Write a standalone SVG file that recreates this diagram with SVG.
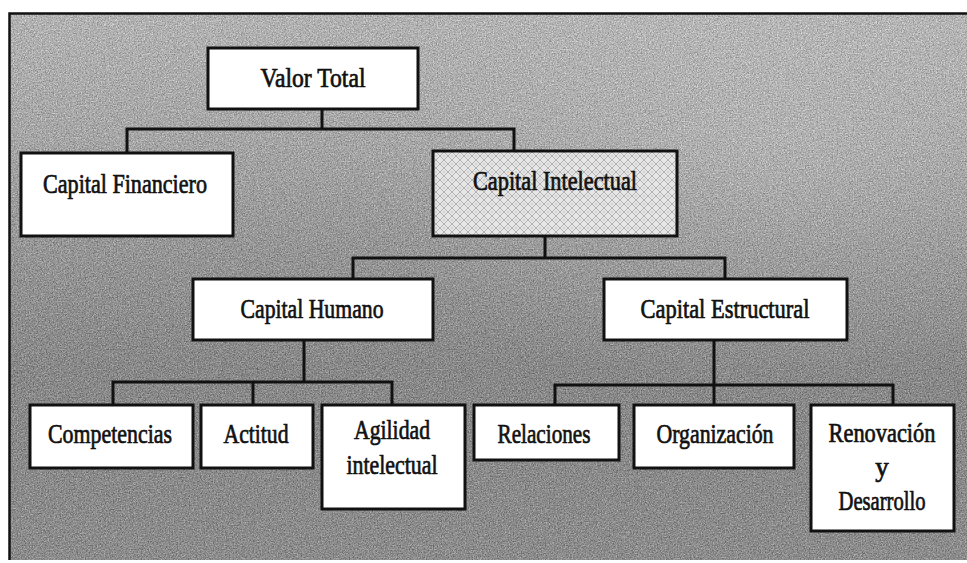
<svg xmlns="http://www.w3.org/2000/svg" width="967" height="563" viewBox="0 0 967 563">
  <style>
    .box { fill: #ffffff; stroke: #111111; stroke-width: 3; }
    .hatched { fill: url(#diamonds); stroke: #111111; stroke-width: 3; }
    .lbl { font-family: "Liberation Serif", "Times New Roman", serif; font-size: 27px; fill: #111111; stroke: #111111; stroke-width: 0.7; text-anchor: middle; }
    .wire { fill: none; stroke: #111111; stroke-width: 3; stroke-linejoin: miter; stroke-linecap: square; }
  </style>
  <defs>
    <linearGradient id="bgShade" x1="0" y1="0" x2="0" y2="1">
      <stop offset="0" stop-color="#cacaca"/>
      <stop offset="0.22" stop-color="#b9b9b9"/>
      <stop offset="0.42" stop-color="#a2a2a2"/>
      <stop offset="0.65" stop-color="#8e8e8e"/>
      <stop offset="1" stop-color="#939393"/>
    </linearGradient>
    <radialGradient id="glow" cx="0.8" cy="0.25" r="0.45">
      <stop offset="0" stop-color="#ffffff" stop-opacity="0.25"/>
      <stop offset="1" stop-color="#ffffff" stop-opacity="0"/>
    </radialGradient>
    <filter id="grain" x="0" y="0" width="100%" height="100%" color-interpolation-filters="sRGB">
      <feTurbulence type="fractalNoise" baseFrequency="0.75" numOctaves="2" seed="7" result="n"/>
      <feColorMatrix in="n" type="matrix" values="0.33 0.33 0.33 0 0  0.33 0.33 0.33 0 0  0.33 0.33 0.33 0 0  0 0 0 0 1" result="g"/>
      <feComponentTransfer in="g">
        <feFuncR type="linear" slope="3" intercept="-1"/>
        <feFuncG type="linear" slope="3" intercept="-1"/>
        <feFuncB type="linear" slope="3" intercept="-1"/>
      </feComponentTransfer>
    </filter>
    <pattern id="diamonds" patternUnits="userSpaceOnUse" width="8" height="8">
      <rect width="8" height="8" fill="#e6e6e6"/>
      <path d="M0 4 L4 0 L8 4 L4 8 Z" fill="none" stroke="#b2b2b2" stroke-width="1"/>
      <path d="M4 2.5 L5.5 4 L4 5.5 L2.5 4 Z" fill="#d2d2d2"/>
    </pattern>
  </defs>

  <!-- page -->
  <rect width="967" height="563" fill="#ffffff"/>

  <!-- textured panel -->
  <rect x="9" y="13" width="958" height="547" fill="url(#bgShade)"/>
  <rect x="9" y="13" width="958" height="547" fill="url(#glow)"/>
  <rect x="9" y="13" width="958" height="547" filter="url(#grain)" opacity="0.3"/>
  <path d="M9.5 560 L9.5 13.5 L967 13.5" fill="none" stroke="#111111" stroke-width="2.5"/>

  <!-- connectors -->
  <g id="connectors">
    <path class="wire" d="M322 110 V129 M127 152 V129 H514 V150"/>
    <path class="wire" d="M545 236 V258 M353 279 V258 H725 V279"/>
    <path class="wire" d="M304 340 V382 M113 405 V382 H392 V405 M253 382 V405"/>
    <path class="wire" d="M714 340 V385 M555 405 V385 H893 V405 M714 385 V405"/>
  </g>

  <g id="valor-total">
    <rect class="box" x="208" y="48" width="210" height="61"/>
    <text class="lbl" x="313" y="87" textLength="105" lengthAdjust="spacingAndGlyphs">Valor Total</text>
  </g>

  <g id="capital-financiero">
    <rect class="box" x="21" y="153" width="212" height="83"/>
    <text class="lbl" x="125" y="193" textLength="164" lengthAdjust="spacingAndGlyphs">Capital Financiero</text>
  </g>

  <g id="capital-intelectual">
    <rect class="hatched" x="433" y="151" width="244" height="85"/>
    <text class="lbl" x="555" y="190" textLength="164" lengthAdjust="spacingAndGlyphs">Capital Intelectual</text>
  </g>

  <g id="capital-humano">
    <rect class="box" x="193" y="279" width="240" height="61"/>
    <text class="lbl" x="312" y="318" textLength="143" lengthAdjust="spacingAndGlyphs">Capital Humano</text>
  </g>

  <g id="capital-estructural">
    <rect class="box" x="604" y="279" width="243" height="61"/>
    <text class="lbl" x="725" y="318" textLength="169" lengthAdjust="spacingAndGlyphs">Capital Estructural</text>
  </g>

  <g id="competencias">
    <rect class="box" x="30" y="405" width="163" height="63"/>
    <text class="lbl" x="110" y="443" textLength="124" lengthAdjust="spacingAndGlyphs">Competencias</text>
  </g>

  <g id="actitud">
    <rect class="box" x="201" y="405" width="112" height="63"/>
    <text class="lbl" x="256" y="443" textLength="65" lengthAdjust="spacingAndGlyphs">Actitud</text>
  </g>

  <g id="agilidad-intelectual">
    <rect class="box" x="322" y="405" width="143" height="104"/>
    <text class="lbl" x="392" y="439" textLength="76" lengthAdjust="spacingAndGlyphs">Agilidad</text>
    <text class="lbl" x="392" y="474" textLength="91" lengthAdjust="spacingAndGlyphs">intelectual</text>
  </g>

  <g id="relaciones">
    <rect class="box" x="474" y="405" width="145" height="55"/>
    <text class="lbl" x="544" y="443" textLength="93" lengthAdjust="spacingAndGlyphs">Relaciones</text>
  </g>

  <g id="organizacion">
    <rect class="box" x="634" y="405" width="160" height="63"/>
    <text class="lbl" x="715" y="443" textLength="117" lengthAdjust="spacingAndGlyphs">Organización</text>
  </g>

  <g id="renovacion-desarrollo">
    <rect class="box" x="811" y="405" width="143" height="126"/>
    <text class="lbl" x="882" y="442" textLength="107" lengthAdjust="spacingAndGlyphs">Renovación</text>
    <text class="lbl" x="882" y="476">y</text>
    <text class="lbl" x="882" y="510" textLength="87" lengthAdjust="spacingAndGlyphs">Desarrollo</text>
  </g>
</svg>
